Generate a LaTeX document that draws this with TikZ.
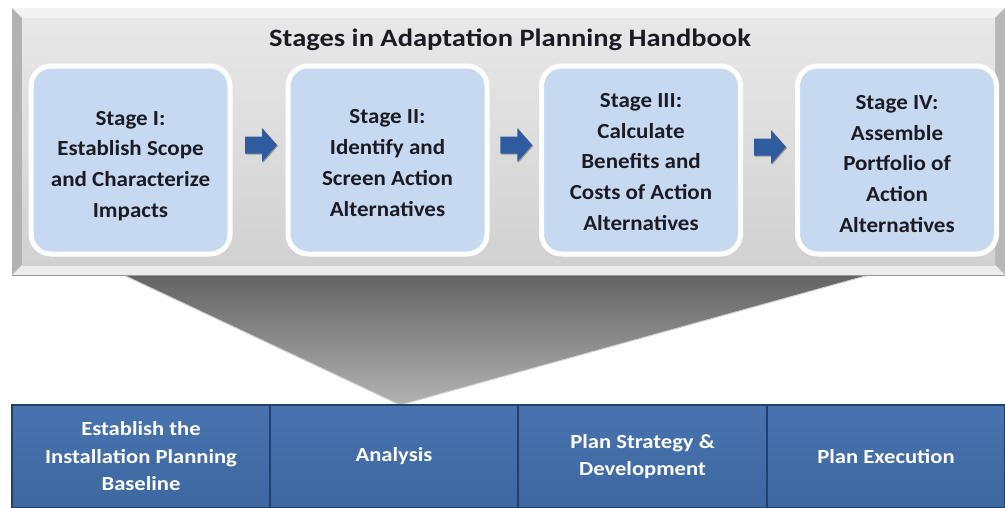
\documentclass[tikz,border=0pt]{standalone}
\usepackage{fontspec}
\setmainfont{Carlito}
\newfontfamily\titlefam{Carlito}[FakeStretch=1.14]
\newfontfamily\stagefam{Carlito}[FakeStretch=1.07]
\newfontfamily\cellfam{Carlito}[FakeStretch=1.13]
\usetikzlibrary{shadows,calc}
\definecolor{stagefill}{HTML}{C6D9F1}
\definecolor{stagetext}{HTML}{1B1B24}
\definecolor{arrowblue}{HTML}{2E5C9F}
\definecolor{cellblue}{HTML}{3C67A1}
\definecolor{celltop}{HTML}{4873AE}
\definecolor{celldark}{HTML}{21406E}
\tikzset{
  stagebox/.style={draw=white, line width=5pt, fill=stagefill, rounded corners=20pt,
    minimum width=199pt, minimum height=188pt,
    drop shadow={shadow xshift=1.5pt, shadow yshift=-1.5pt, opacity=0.3, fill=black}},
  stagelabel/.style={align=center, text=stagetext, inner sep=0pt,
    font=\stagefam\fontsize{21.5}{30.8}\selectfont\bfseries},
  flowarrow/.style={fill=arrowblue,
    drop shadow={shadow xshift=1pt, shadow yshift=-1pt, opacity=0.3, fill=black}},
  cellbox/.style={draw=celldark, line width=2.5pt, top color=celltop, bottom color=cellblue,
    minimum height=103pt, align=center, text=white,
    font=\cellfam\fontsize{20}{27.5}\selectfont\bfseries},
  titletext/.style={font=\titlefam\fontsize{25}{30}\selectfont\bfseries, text=stagetext},
  funnel/.style={top color=black!62, bottom color=black!30, draw=black!18, line width=1pt},
}
\newcommand\blockarrowat[1]{%
  \path[flowarrow] ($(#1)+(-16,-8.5)$) -- ++(17,0) -- ++(0,-8.5) -- ++(15,17)
    -- ++(-15,17) -- ++(0,-8.5) -- ++(-17,0) -- cycle;}
\begin{document}
\begin{tikzpicture}[x=1pt,y=-1pt]
\useasboundingbox (0,0) rectangle (1005,507);
\fill[white] (0,0) rectangle (1005,507);
% funnel behind everything
\path[funnel] (117,272) -- (880,272) -- (400,405) -- cycle;
% frame with bevel
\fill[black!22] (12,8) rectangle (1005,275);
\fill[black!5] (12,8) -- (1005,8) -- (995,18) -- (22,18) -- cycle;
\fill[black!30] (12,8) -- (22,18) -- (22,265) -- (12,275) -- cycle;
\fill[black!28] (1005,8) -- (995,18) -- (995,265) -- (1005,275) -- cycle;
\fill[black!8] (12,275) -- (22,265) -- (995,265) -- (1005,275) -- cycle;
\shade[top color=black!9, bottom color=black!18] (22,18) rectangle (995,265);
\draw[black!40, line width=1pt] (12,275.5) -- (1005,275.5);
% title
\node[titletext] (title) at (510,40) {Stages in Adaptation Planning Handbook};
% stage boxes
\node[stagebox] (s1) at (130.5,160) {};
\node[stagebox] (s2) at (387.5,160) {};
\node[stagebox] (s3) at (641,160) {};
\node[stagebox] (s4) at (897,160) {};
\node[stagelabel] (t1) at ($(s1.center)+(0,6)$) {Stage I:\\Establish Scope\\and Characterize\\Impacts};
\node[stagelabel] (t2) at ($(s2.center)+(0,3)$) {Stage II:\\Identify and\\Screen Action\\Alternatives};
\node[stagelabel] (t3) at ($(s3.center)+(0,2)$) {Stage III:\\Calculate\\Benefits and\\Costs of Action\\Alternatives};
\node[stagelabel] (t4) at ($(s4.center)+(0,4)$) {Stage IV:\\Assemble\\Portfolio of\\Action\\Alternatives};
% block arrows between stages
\coordinate (a1) at ($(s1.east)!0.5!(s2.west)+(2,-15)$);
\coordinate (a2) at ($(s2.east)!0.5!(s3.west)+(2,-15)$);
\coordinate (a3) at ($(s3.east)!0.5!(s4.west)+(1,-13)$);
\blockarrowat{a1}
\blockarrowat{a2}
\blockarrowat{a3}
% bottom cells
\node[cellbox, minimum width=258pt] (c1) at (141,456.5) {Establish the\\Installation Planning\\Baseline};
\node[cellbox, minimum width=248pt] (c2) at (394,456.5) {Analysis};
\node[cellbox, minimum width=249pt] (c3) at (642.5,456.5) {Plan Strategy \&\\Development};
\node[cellbox, minimum width=238pt] (c4) at (886,456.5) {Plan Execution};
\end{tikzpicture}
\end{document}
